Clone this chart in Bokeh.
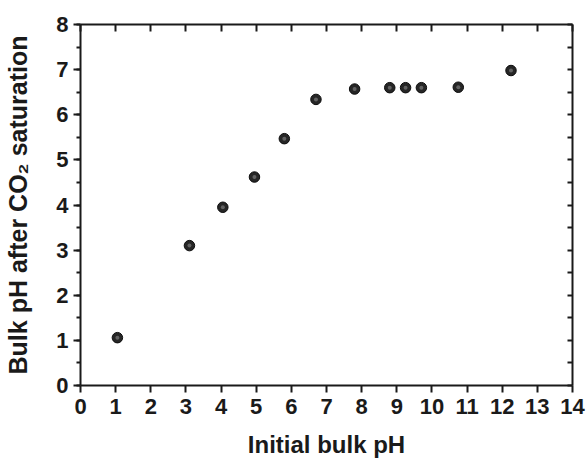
from bokeh.plotting import figure
from bokeh.models import Range1d, LinearAxis, SingleIntervalTicker, FixedTicker
from bokeh.embed import file_html
from bokeh.resources import INLINE

initial_ph = [1.05, 3.1, 4.05, 4.95, 5.8, 6.7, 7.8, 8.8, 9.25, 9.7, 10.75, 12.25]
final_ph = [1.06, 3.1, 3.95, 4.62, 5.47, 6.34, 6.57, 6.6, 6.6, 6.6, 6.61, 6.98]
x_label = "Initial bulk pH"
y_label = "Bulk pH after CO\u2082 saturation"

FONT = "Liberation Sans"
INK = "#1a1a1a"

p = figure(width=588, height=460, output_backend="svg", toolbar_location=None,
           x_range=Range1d(0, 14), y_range=Range1d(0, 8),
           min_border_left=80, min_border_right=16, min_border_top=24, min_border_bottom=75,
           x_axis_type=None, y_axis_type=None)
p.outline_line_color = None
p.xgrid.visible = False
p.ygrid.visible = False
p.background_fill_color = "white"
p.border_fill_color = "white"


def style(ax):
    ax.axis_line_width = 2
    ax.axis_line_color = INK
    ax.major_tick_line_width = 2
    ax.minor_tick_line_width = 2
    ax.major_tick_line_color = INK
    ax.minor_tick_line_color = INK
    ax.major_label_text_font = FONT
    ax.major_label_text_font_style = "bold"
    ax.major_label_text_font_size = "22px"
    ax.major_label_text_color = INK
    ax.axis_label_text_font = FONT
    ax.axis_label_text_font_style = "bold"
    ax.axis_label_text_font_size = "25px"
    ax.axis_label_text_color = INK


xb = LinearAxis(ticker=SingleIntervalTicker(interval=1, num_minor_ticks=0), axis_label=x_label)
style(xb)
xb.axis_label_text_font_size = "24px"
xb.major_tick_out = 7
xb.major_tick_in = 0
xb.minor_tick_out = 0
xb.major_label_standoff = 6
xb.axis_label_standoff = 14
p.add_layout(xb, "below")

yl = LinearAxis(ticker=SingleIntervalTicker(interval=1, num_minor_ticks=2), axis_label=y_label)
style(yl)
yl.major_tick_out = 7
yl.major_tick_in = 0
yl.minor_tick_out = 4
yl.minor_tick_in = 0
yl.major_label_standoff = 5
yl.axis_label_standoff = 21
p.add_layout(yl, "left")

# top and right frame edges: ticks only (minor ticks carry no labels)
top_ticks = [float(v) for v in range(0, 15)]
right_ticks = [v / 2 for v in range(0, 17)]

xt = LinearAxis(ticker=FixedTicker(ticks=[], minor_ticks=top_ticks))
style(xt)
xt.major_tick_out = 0
xt.major_tick_in = 0
xt.minor_tick_in = 7
xt.minor_tick_out = 0
p.add_layout(xt, "above")

yr = LinearAxis(ticker=FixedTicker(ticks=[], minor_ticks=right_ticks))
style(yr)
yr.major_tick_out = 0
yr.major_tick_in = 0
yr.minor_tick_in = 5
yr.minor_tick_out = 0
p.add_layout(yr, "right")

p.scatter(initial_ph, final_ph, size=10.5, fill_color="#262626", line_color="#0d0d0d", line_width=1)
p.scatter(initial_ph, final_ph, size=4, fill_color="#8a8a8a", line_color=None, fill_alpha=0.6)

open("out.html", "w").write(file_html(p, INLINE))
